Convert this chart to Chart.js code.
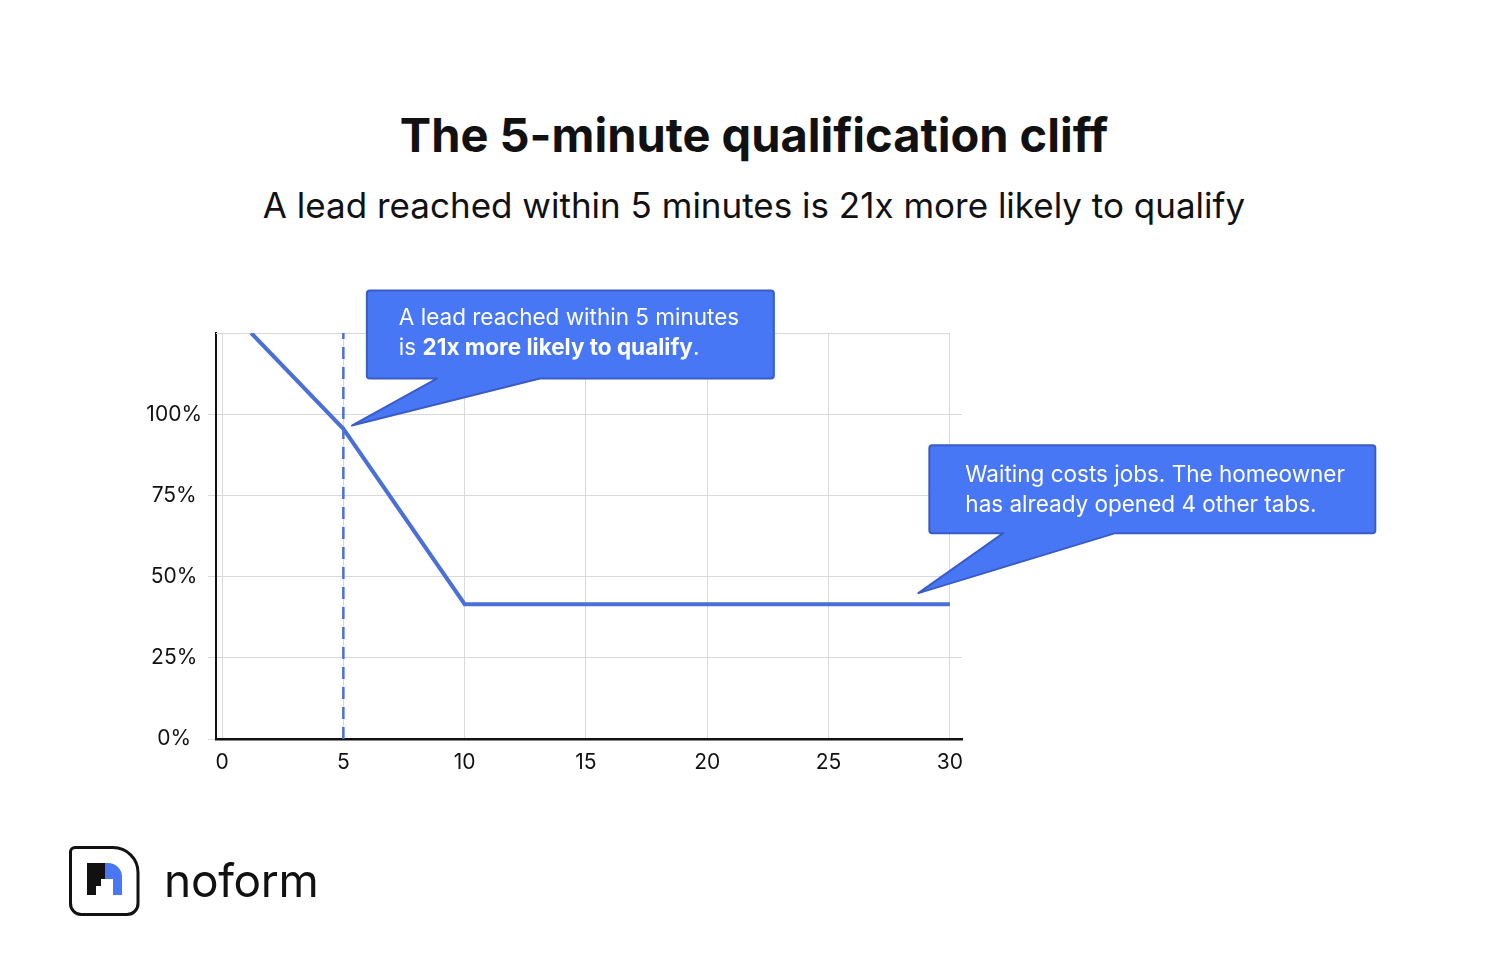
<!DOCTYPE html>
<html>
<head>
<meta charset="utf-8">
<script src="https://cdn.jsdelivr.net/npm/chart.js@4.4.1/dist/chart.umd.min.js"></script>
<style>
  html, body { margin: 0; padding: 0; background: #fff; }
  #page { position: relative; width: 1500px; height: 968px; overflow: hidden; font-family: Inter, "Noto Sans", sans-serif; color: #111; }
  #title { position: absolute; left: 4px; width: 1500px; top: 107px; text-align: center; font-size: 47px; font-weight: 700; line-height: 56px; }
  #subtitle { position: absolute; left: 4px; width: 1500px; top: 182px; text-align: center; font-size: 35px; font-weight: 400; line-height: 46px; }
  #chart { position: absolute; left: 0; top: 0; }
  #logo { position: absolute; left: 68px; top: 845px; }
  #brand { position: absolute; left: 164px; top: 850px; font-size: 46px; font-weight: 400; line-height: 60px; letter-spacing: -0.3px; }
</style>
</head>
<body>
<div id="page">
  <div id="title">The 5-minute qualification cliff</div>
  <div id="subtitle">A lead reached within 5 minutes is 21x more likely to qualify</div>
  <canvas id="chart" width="1500" height="968"></canvas>
  <svg id="logo" width="74" height="74" viewBox="0 0 74 74">
    <path d="M7 2.5 H45 A25 25 0 0 1 70 27.5 V58 A11 11 0 0 1 59 69.5 H13 A11 11 0 0 1 2.5 58 V7 A4.5 4.5 0 0 1 7 2.5 Z" fill="none" stroke="#111" stroke-width="3"/>
    <path d="M19 18 H37 V34 H33 V41 H28 V50 H19 Z" fill="#111"/>
    <path d="M37 18 H40 A14 14 0 0 1 54 32 V50 H45 V34 H37 Z" fill="#4a78f5"/>
  </svg>
  <div id="brand">noform</div>
</div>
<script>
// 데이터 - minutes to first contact vs qualification rate (%)
const minutes = [1.2, 5, 10, 30];
const qualifyRate = [125, 95.5, 41.5, 41.5];
const markerMinute = 5;          // 5분 기준선
const xTicks = [0, 5, 10, 15, 20, 25, 30];
const yTicks = [0, 25, 50, 75, 100, 125];

// 말풍선 (annotation) - 꼬리 끝 위치는 데이터 좌표
const calloutTipX = [5.35, 28.7];
const calloutTipY = [96.5, 44.9];
const calloutText = [
  [[["A lead reached within 5 minutes", false]],
   [["is ", false], ["21x more likely to qualify", true], [".", false]]],
  [[["Waiting costs jobs. The homeowner", false]],
   [["has already opened 4 other tabs.", false]]]
];
// 박스 모양 (꼬리 끝 기준 offset)
const calloutBox = [
  { dx: 15, dy: -135, w: 407, h: 88, base0: 70, base1: 173, tx: 32, ty: 34 },
  { dx: 11, dy: -148, w: 446, h: 88, base0: 74, base1: 186, tx: 36, ty: 37 }
];

const lineBlue = "#4a70d8";
const calloutFill = "#4877f5";
const calloutEdge = "#3a5cc6";
const gridGray = "#d9d9d9";

const calloutPlugin = {
  id: "callouts",
  beforeDatasetsDraw(chart) {
    // 맨 윗줄 그리드는 30분까지만
    const ctx = chart.ctx;
    const xs = chart.scales.x, ys = chart.scales.y;
    const top = ys.getPixelForValue(125);
    ctx.save();
    ctx.strokeStyle = gridGray;
    ctx.lineWidth = 1;
    ctx.beginPath();
    ctx.moveTo(chart.chartArea.left, top + 0.5);
    ctx.lineTo(xs.getPixelForValue(30), top + 0.5);
    ctx.stroke();
    ctx.restore();
  },
  afterDatasetsDraw(chart) {
    const ctx = chart.ctx;
    const xs = chart.scales.x, ys = chart.scales.y;
    calloutTipX.forEach((tx, i) => {
      const px = xs.getPixelForValue(tx);
      const py = ys.getPixelForValue(calloutTipY[i]);
      const b = calloutBox[i];
      const L = px + b.dx, T = py + b.dy, R = L + b.w, B = T + b.h, r = 3;
      ctx.save();
      ctx.beginPath();
      ctx.moveTo(L + r, T);
      ctx.lineTo(R - r, T);
      ctx.quadraticCurveTo(R, T, R, T + r);
      ctx.lineTo(R, B - r);
      ctx.quadraticCurveTo(R, B, R - r, B);
      ctx.lineTo(L + b.base1, B);
      ctx.lineTo(px, py);
      ctx.lineTo(L + b.base0, B);
      ctx.lineTo(L + r, B);
      ctx.quadraticCurveTo(L, B, L, B - r);
      ctx.lineTo(L, T + r);
      ctx.quadraticCurveTo(L, T, L + r, T);
      ctx.closePath();
      ctx.fillStyle = calloutFill;
      ctx.fill();
      ctx.lineWidth = 2;
      ctx.strokeStyle = calloutEdge;
      ctx.lineJoin = "round";
      ctx.stroke();

      // 텍스트
      ctx.fillStyle = "#fff";
      ctx.textBaseline = "alphabetic";
      ctx.textAlign = "left";
      calloutText[i].forEach((line, li) => {
        let x = L + b.tx;
        const y = T + b.ty + li * 30;
        line.forEach(([txt, bold]) => {
          ctx.font = (bold ? "700 " : "400 ") + "22.5px Inter, 'Noto Sans', sans-serif";
          ctx.fillText(txt, x, y);
          x += ctx.measureText(txt).width;
        });
      });
      ctx.restore();
    });
  }
};

const ctx = document.getElementById("chart").getContext("2d");
new Chart(ctx, {
  type: "scatter",
  data: {
    datasets: [
      {
        label: "qualification rate",
        data: minutes.map((m, i) => ({ x: m, y: qualifyRate[i] })),
        showLine: true,
        borderColor: lineBlue,
        borderWidth: 4,
        pointRadius: 0,
        fill: false,
      },
      {
        label: "5 min",
        data: [{ x: markerMinute, y: 0 }, { x: markerMinute, y: 125 }],
        showLine: true,
        borderColor: lineBlue,
        borderWidth: 2.5,
        borderDash: [12, 8],
        pointRadius: 0,
      },
    ],
  },
  options: {
    responsive: false,
    animation: false,
    events: [],
    layout: { padding: { left: 130, top: 333, right: 538, bottom: 189 } },
    plugins: { legend: { display: false }, tooltip: { enabled: false } },
    scales: {
      x: {
        type: "linear",
        min: -0.25,
        max: 30.5,
        afterBuildTicks: axis => { axis.ticks = xTicks.map(v => ({ value: v })); },
        afterFit: scale => { scale.height = 40; },
        grid: { color: gridGray, lineWidth: 1, drawTicks: false },
        border: { color: "#111", width: 2.5 },
        ticks: { padding: 11, color: "#111", font: { family: "Inter, 'Noto Sans', sans-serif", size: 21 } },
      },
      y: {
        min: 0,
        max: 125,
        afterBuildTicks: axis => { axis.ticks = yTicks.map(v => ({ value: v })); },
        afterFit: scale => { scale.width = 86; },
        grid: {
          color: c => (c.tick && c.tick.value === 125 ? "rgba(0,0,0,0)" : gridGray),
          lineWidth: 1,
          tickLength: 8,
        },
        border: { color: "#111", width: 2 },
        ticks: {
          padding: 6,
          crossAlign: "center",
          color: "#111",
          font: { family: "Inter, 'Noto Sans', sans-serif", size: 21 },
          callback: v => (v <= 100 ? v + "%" : ""),
        },
      },
    },
  },
  plugins: [calloutPlugin],
});
</script>
</body>
</html>
